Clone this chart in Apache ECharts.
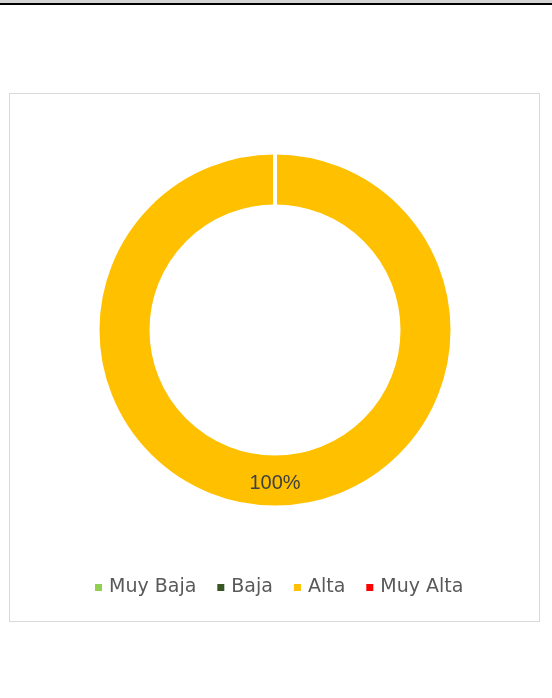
<!DOCTYPE html>
<html>
<head>
<meta charset="utf-8">
<script src="https://cdn.jsdelivr.net/npm/echarts@6/dist/echarts.min.js"></script>
<style>
  body { margin: 0; background: #fff; }
  #topRule { position: absolute; left: 0; top: 0; width: 552px; height: 3px; background: #d4d4d4; border-bottom: 2px solid #000; }
  #chartBox { position: absolute; left: 9px; top: 93px; width: 529px; height: 527px; border: 1.5px solid #d9d9d9; }
  #chart { width: 100%; height: 100%; }
</style>
</head>
<body>
<div id="topRule"></div>
<div id="chartBox"><div id="chart"></div></div>
<script>
// niveles y valores (porcentaje de casos)
const levels = ['Muy Baja', 'Baja', 'Alta', 'Muy Alta'];
const values = [0, 0, 100, 0];
const colors = ['#92D050', '#375623', '#FFC000', '#FF0000'];

const chart = echarts.init(document.getElementById('chart'));
chart.setOption({
  animation: false,
  color: colors,
  legend: {
    data: levels,
    top: 479,
    left: 80,
    icon: 'rect',
    itemWidth: 7,
    itemHeight: 7,
    itemGap: 21,
    itemStyle: { borderWidth: 0 },
    textStyle: { color: '#595959', fontSize: 19, fontFamily: 'DejaVu Sans', padding: [0, 0, 0, 2] }
  },
  series: [{
    type: 'pie',
    radius: [123.5, 177.5],
    center: [265, 236],
    startAngle: 90,
    clockwise: true,
    avoidLabelOverlap: false,
    itemStyle: { borderColor: '#fff', borderWidth: 4 },
    label: {
      position: 'inside',
      color: '#404040',
      fontSize: 20,
      fontFamily: 'Liberation Sans',
      formatter: p => p.value ? p.percent + '%' : ''
    },
    labelLine: { show: false },
    emphasis: { disabled: true },
    data: levels.map((name, i) => ({ name: name, value: values[i] }))
  }]
});
</script>
</body>
</html>
